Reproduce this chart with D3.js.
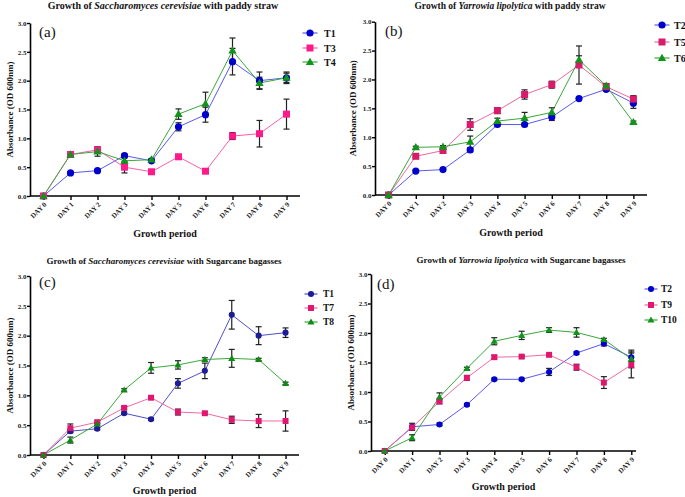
<!DOCTYPE html>
<html><head><meta charset="utf-8">
<script src="https://cdn.jsdelivr.net/npm/d3@7"></script>
<style>body{margin:0;background:#fff}svg{display:block}text{font-family:"Liberation Serif","Times New Roman",serif}</style>
</head><body>
<svg id="c" width="685" height="497"></svg>
<script>
const days = ["DAY 0","DAY 1","DAY 2","DAY 3","DAY 4","DAY 5","DAY 6","DAY 7","DAY 8","DAY 9"];
const yTicks = [0,0.5,1.0,1.5,2.0,2.5,3.0];

// Panel (a): S. cerevisiae, paddy straw
const aT1 = [0,0.40,0.44,0.70,0.61,1.20,1.41,2.33,2.00,2.05];
const aT1err = [0,0.02,0.02,0.03,0.02,0.07,0.13,0.23,0.15,0.08];
const aT3 = [0,0.72,0.80,0.50,0.42,0.68,0.43,1.04,1.08,1.42];
const aT3err = [0,0.05,0.05,0.10,0.02,0.04,0.02,0.06,0.23,0.26];
const aT4 = [0,0.72,0.77,0.61,0.63,1.42,1.60,2.52,1.96,2.05];
const aT4err = [0,0.05,0.08,0.05,0.02,0.09,0.20,0.22,0.10,0.10];
// Panel (b): Y. lipolytica, paddy straw
const bT2 = [0,0.415,0.44,0.78,1.22,1.22,1.35,1.67,1.83,1.59];
const bT2err = [0,0.02,0.02,0.03,0.03,0.02,0.06,0.02,0.03,0.09];
const bT5 = [0,0.67,0.77,1.22,1.46,1.74,1.91,2.25,1.875,1.66];
const bT5err = [0,0.02,0.02,0.10,0.05,0.08,0.06,0.33,0.05,0.06];
const bT6 = [0,0.825,0.835,0.92,1.28,1.33,1.43,2.34,1.89,1.26];
const bT6err = [0,0.02,0.02,0.10,0.05,0.10,0.08,0.07,0.04,0.02];
// Panel (c): S. cerevisiae, sugarcane bagasses
const cT1 = [0,0.40,0.44,0.70,0.60,1.20,1.41,2.35,2.00,2.05];
const cT1err = [0,0.03,0.02,0.02,0.02,0.08,0.13,0.24,0.15,0.08];
const cT7 = [0,0.45,0.55,0.79,0.96,0.72,0.70,0.59,0.57,0.57];
const cT7err = [0,0.07,0.02,0.02,0.02,0.05,0.02,0.06,0.11,0.17];
const cT8 = [0,0.25,0.52,1.09,1.46,1.51,1.60,1.62,1.60,1.20];
const cT8err = [0,0.05,0.02,0.02,0.09,0.07,0.03,0.15,0.02,0.02];
// Panel (d): Y. lipolytica, sugarcane bagasses
const dT2 = [0,0.41,0.45,0.785,1.215,1.215,1.34,1.66,1.82,1.59];
const dT2err = [0,0.06,0.02,0.02,0.02,0.02,0.06,0.02,0.04,0.07];
const dT9 = [0,0.40,0.84,1.24,1.59,1.60,1.63,1.42,1.16,1.46];
const dT9err = [0,0.03,0.04,0.04,0.03,0.02,0.02,0.05,0.10,0.22];
const dT10 = [0,0.225,0.915,1.40,1.86,1.96,2.05,2.01,1.89,1.56];
const dT10err = [0,0.05,0.07,0.02,0.06,0.07,0.04,0.08,0.02,0.15];

const panels = [
  {tag:"(a)", org:"Saccharomyces cerevisiae", sub:" with paddy straw", tfs:10,
   x0:30, x1:300, axEnd:300, yTop:23, yBot:196, tx:163, ty:9, xlY:237, ylX:10,
   tagX:39, tagY:37, legX:310, legHalf:7.5, legT:14, legFs:10, legY:[33,48,62], ms:1,
   series:[{n:"T1",v:aT1,e:aT1err,m:"circle",c:"#0000cd",lc:"#5a5af0"},
           {n:"T3",v:aT3,e:aT3err,m:"square",c:"#ff1a8c",lc:"#ff5cab"},
           {n:"T4",v:aT4,e:aT4err,m:"triangle",c:"#11941a",lc:"#3aa83a"}]},
  {tag:"(b)", org:"Yarrowia lipolytica", sub:" with paddy straw", tfs:9.5,
   x0:375, x1:647, axEnd:647, yTop:21.7, yBot:195, tx:510, ty:9, xlY:236, ylX:353,
   tagX:385, tagY:36, legX:662, legHalf:7.5, legT:12, legFs:10, legY:[25,42,58], ms:1,
   series:[{n:"T2",v:bT2,e:bT2err,m:"circle",c:"#0000cd",lc:"#5a5af0"},
           {n:"T5",v:bT5,e:bT5err,m:"square",c:"#d81b6a",lc:"#ea6a9c"},
           {n:"T6",v:bT6,e:bT6err,m:"triangle",c:"#11941a",lc:"#3aa83a"}]},
  {tag:"(c)", org:"Saccharomyces cerevisiae", sub:" with Sugarcane bagasses", tfs:9,
   x0:30, x1:299, axEnd:299, yTop:276, yBot:455, tx:164, ty:264, xlY:494, ylX:10,
   tagX:39, tagY:287, legX:311, legHalf:6.5, legT:12, legFs:9.5, legY:[294,308,322], ms:0.85,
   series:[{n:"T1",v:cT1,e:cT1err,m:"circle",c:"#1c1c96",lc:"#4f4fc8"},
           {n:"T7",v:cT7,e:cT7err,m:"square",c:"#e0166f",lc:"#f06aa0"},
           {n:"T8",v:cT8,e:cT8err,m:"triangle",c:"#0f8a14",lc:"#3aa83a"}]},
  {tag:"(d)", org:"Yarrowia lipolytica", sub:" with Sugarcane bagasses", tfs:9,
   x0:371, x1:645, axEnd:636, yTop:274, yBot:451, tx:521, ty:263, xlY:490, ylX:351,
   tagX:377, tagY:289, legX:651, legHalf:6.5, legT:10, legFs:9.5, legY:[289,305,320], ms:0.85,
   series:[{n:"T2",v:dT2,e:dT2err,m:"circle",c:"#0000cd",lc:"#5a5af0"},
           {n:"T9",v:dT9,e:dT9err,m:"square",c:"#e0166f",lc:"#f06aa0"},
           {n:"T10",v:dT10,e:dT10err,m:"triangle",c:"#11941a",lc:"#3aa83a"}]}
];

const svg = d3.select("#c");

function marker(g, type, x, y, col, s) {
  if (type === "circle") g.append("circle").attr("cx",x).attr("cy",y).attr("r",3.6*s).attr("fill",col);
  else if (type === "square") g.append("rect").attr("x",x-3.5*s).attr("y",y-3.5*s).attr("width",7*s).attr("height",7*s).attr("fill",col);
  else g.append("path").attr("d",d3.symbol(d3.symbolTriangle, 30*s*s)()).attr("transform",`translate(${x},${y+0.5})`).attr("fill",col);
}

panels.forEach(p => {
  const g = svg.append("g");
  const x = d3.scalePoint().domain(days).range([p.x0, p.x1]).padding(0.5);
  const y = d3.scaleLinear().domain([0,3]).range([p.yBot, p.yTop]);
  const axL = p.x0, axR = p.axEnd;

  const t = g.append("text").attr("x",p.tx).attr("y",p.ty).attr("text-anchor","middle")
    .attr("font-size",p.tfs).attr("font-weight","bold").attr("fill","#111");
  t.append("tspan").text("Growth of ");
  t.append("tspan").attr("font-style","italic").text(p.org);
  t.append("tspan").text(p.sub);

  const ya = g.append("g").attr("transform",`translate(${axL},0)`)
    .call(d3.axisLeft(y).tickValues(yTicks).tickFormat(d3.format(".1f")).tickSize(3).tickSizeOuter(0));
  ya.select(".domain").attr("stroke","#000").attr("stroke-width",1.6);
  ya.selectAll(".tick line").attr("stroke","#000").attr("stroke-width",1.4);
  ya.selectAll(".tick text").attr("font-size",7).attr("font-weight","bold")
    .attr("font-family","Liberation Serif, serif").attr("fill","#222").attr("x",-3.5);

  const xa = g.append("g").attr("transform",`translate(0,${p.yBot})`)
    .call(d3.axisBottom(x).tickSize(4).tickSizeOuter(0));
  xa.select(".domain").attr("d",`M${axL},0H${axR}`).attr("stroke","#000").attr("stroke-width",1.6);
  xa.selectAll(".tick line").attr("stroke","#000").attr("stroke-width",1.4);
  xa.selectAll(".tick text").attr("font-size",7).attr("font-weight","bold")
    .attr("font-family","Liberation Serif, serif").attr("fill","#222")
    .attr("text-anchor","end").attr("dy",0).attr("y",0)
    .attr("transform","translate(3,9) rotate(-45)");

  g.append("text").attr("x",(axL+axR)/2).attr("y",p.xlY).attr("text-anchor","middle")
    .attr("font-size",10).attr("font-weight","bold").attr("fill","#111").text("Growth period");
  g.append("text").attr("transform",`translate(${p.ylX},${(p.yTop+p.yBot)/2}) rotate(-90)`)
    .attr("text-anchor","middle").attr("dy","0.35em").attr("font-size",9).attr("font-weight","bold")
    .attr("fill","#111").text("Absorbance (OD 600nm)");

  g.append("text").attr("x",p.tagX).attr("y",p.tagY).attr("font-size",15).attr("fill","#111").text(p.tag);

  const line = d3.line().x((d,i)=>x(days[i])).y(d=>y(d));
  p.series.forEach(s => {
    g.append("path").datum(s.v).attr("d",line).attr("fill","none").attr("stroke",s.lc).attr("stroke-width",1);
  });
  p.series.forEach(s => {
    s.v.forEach((v,i) => {
      const e = s.e[i]; if (!e) return;
      const cx = x(days[i]);
      const eg = g.append("g").attr("stroke","#222").attr("stroke-width",1.2);
      eg.append("line").attr("x1",cx).attr("x2",cx).attr("y1",y(v-e)).attr("y2",y(v+e));
      eg.append("line").attr("x1",cx-3).attr("x2",cx+3).attr("y1",y(v-e)).attr("y2",y(v-e));
      eg.append("line").attr("x1",cx-3).attr("x2",cx+3).attr("y1",y(v+e)).attr("y2",y(v+e));
    });
  });
  p.series.forEach(s => {
    s.v.forEach((v,i) => marker(g, s.m, x(days[i]), y(v), s.c, p.ms));
  });

  p.series.forEach((s,k) => {
    const ly = p.legY[k];
    g.append("line").attr("x1",p.legX-p.legHalf).attr("x2",p.legX+p.legHalf).attr("y1",ly).attr("y2",ly)
      .attr("stroke",s.lc).attr("stroke-width",1.2);
    marker(g, s.m, p.legX, ly, s.c, p.ms);
    g.append("text").attr("x",p.legX+p.legT).attr("y",ly).attr("dy","0.35em").attr("font-size",p.legFs)
      .attr("font-weight","bold").attr("fill","#111").text(s.n);
  });
});
</script>
</body></html>
